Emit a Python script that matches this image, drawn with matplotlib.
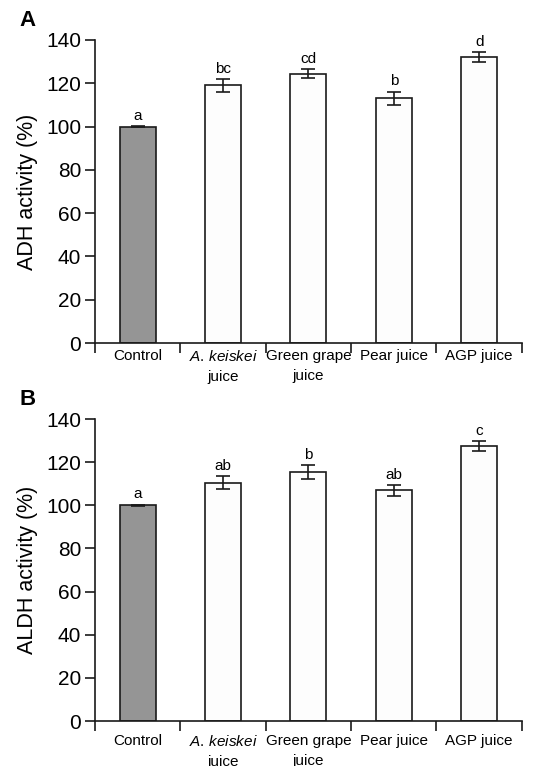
import numpy as np
import matplotlib
matplotlib.use('Agg')
import matplotlib.pyplot as plt

plt.rcParams['font.family'] = ['Liberation Sans', 'DejaVu Sans']
plt.rcParams['mathtext.fontset'] = 'custom'
plt.rcParams['mathtext.rm'] = 'Liberation Sans'
plt.rcParams['mathtext.it'] = 'Liberation Sans:italic'

#Data
groups = ['Control', '$\\mathit{A.\\,keiskei}$\njuice', 'Green grape\njuice', 'Pear juice', 'AGP juice']
adh_mean = [100.0, 119.0, 124.5, 113.0, 132.0]
adh_err = [0.3, 2.8, 2.0, 3.2, 2.3]
adh_letters = ['a', 'bc', 'cd', 'b', 'd']
aldh_mean = [100.0, 110.5, 115.5, 107.0, 127.5]
aldh_err = [0.3, 3.0, 3.3, 2.5, 2.3]
aldh_letters = ['a', 'ab', 'b', 'ab', 'c']
bar_colors = ['#959595', '#fdfdfd', '#fdfdfd', '#fdfdfd', '#fdfdfd']

fig = plt.figure(figsize=(5.47, 7.66), dpi=100)
ax_a = fig.add_axes([0.1737, 0.5522, 0.7803, 0.3956])
ax_b = fig.add_axes([0.1737, 0.0587, 0.7803, 0.3943])


def panel(ax, mean, err, letters, ylabel, tag, pad):
    x = np.arange(len(mean))
    ax.bar(x, mean, width=0.42, color=bar_colors, edgecolor='#1a1a1a', linewidth=1.2, zorder=2)
    ax.errorbar(x, mean, yerr=err, fmt='none', ecolor='#1a1a1a', elinewidth=1.2,
                capsize=5, capthick=1.2, zorder=3)
    for i in range(len(mean)):
        ax.text(x[i], mean[i] + err[i] + 1.5, letters[i], ha='center', va='bottom', fontsize=11)
    ax.set_xlim(-0.5, len(mean) - 0.5)
    ax.set_ylim(0, 140)
    ax.set_yticks(np.arange(0, 141, 20))
    ax.set_xticks(np.arange(-0.5, len(mean), 1.0))
    ax.set_xticklabels([])
    ax.set_xticks(x, minor=True)
    ax.set_xticklabels(groups, minor=True, fontsize=11, linespacing=1.55)
    ax.tick_params(axis='x', which='minor', length=0, pad=pad)
    ax.tick_params(axis='x', which='major', direction='out', length=7, width=1.2, color='#1a1a1a')
    ax.tick_params(axis='y', direction='out', length=7, width=1.2, color='#1a1a1a', labelsize=15, pad=3)
    for s in ['top', 'right']:
        ax.spines[s].set_visible(False)
    for s in ['left', 'bottom']:
        ax.spines[s].set_linewidth(1.2)
        ax.spines[s].set_color('#1a1a1a')
    ax.set_ylabel(ylabel, fontsize=15.5, labelpad=6)
    fig.text(0.036, ax.get_position().y1 + 0.026, tag, fontsize=16, fontweight='bold', va='center')


panel(ax_a, adh_mean, adh_err, adh_letters, 'ADH activity (%)', 'A', 4)
panel(ax_b, aldh_mean, aldh_err, aldh_letters, 'ALDH activity (%)', 'B', 9)

fig.savefig('out.png', dpi=100)
